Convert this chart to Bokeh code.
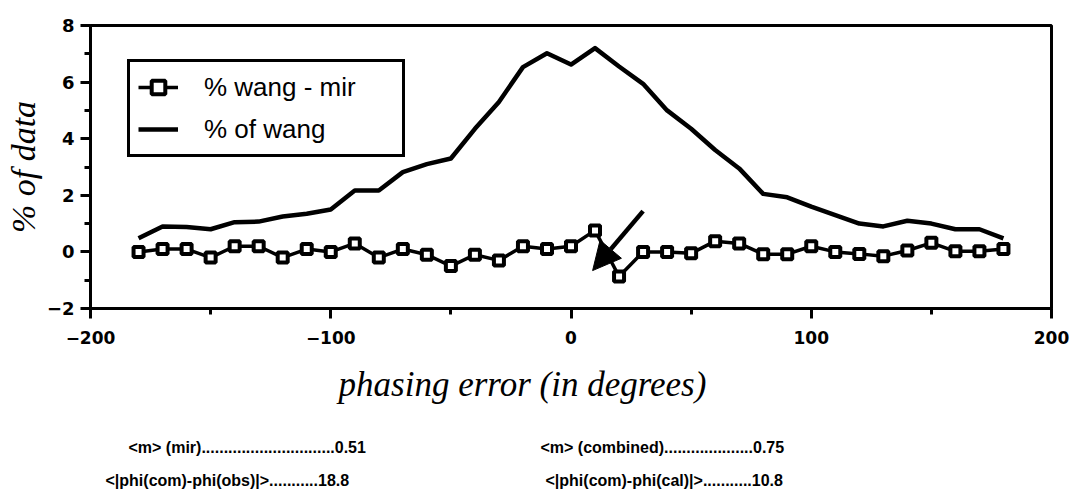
from bokeh.plotting import figure
from bokeh.layouts import column
from bokeh.models import (SingleIntervalTicker, Legend, LegendItem, Arrow, NormalHead, Range1d)
from bokeh.core.properties import value
from bokeh.embed import file_html
from bokeh.resources import INLINE

# ---- data ----
phase_err = [-180, -170, -160, -150, -140, -130, -120, -110, -100, -90, -80, -70, -60, -50,
             -40, -30, -20, -10, 0, 10, 20, 30, 40, 50, 60, 70, 80, 90, 100, 110, 120,
             130, 140, 150, 160, 170, 180]
pct_wang = [0.48, 0.9, 0.88, 0.8, 1.05, 1.07, 1.25, 1.35, 1.5, 2.17, 2.17, 2.82, 3.1, 3.3,
            4.35, 5.3, 6.53, 7.02, 6.62, 7.2, 6.55, 5.94, 5.0, 4.35, 3.6, 2.95, 2.05, 1.93,
            1.6, 1.3, 1.0, 0.9, 1.1, 1.0, 0.8, 0.8, 0.48]
pct_wang_mir = [0.0, 0.1, 0.1, -0.2, 0.2, 0.2, -0.2, 0.1, 0.0, 0.3, -0.2, 0.1, -0.1, -0.5,
                -0.1, -0.3, 0.2, 0.1, 0.2, 0.76, -0.87, 0.0, 0.0, -0.05, 0.38, 0.3, -0.08,
                -0.08, 0.2, 0.0, -0.07, -0.15, 0.05, 0.32, 0.02, 0.02, 0.1]
series_labels = ["% wang - mir", "% of wang"]
x_title = "phasing error (in degrees)"
y_title = "% of data"
arrow_from = (30, 1.44)
arrow_to = (9, -0.66)
stats_lines = [
    "<m> (mir)..............................0.51",
    "<m> (combined)....................0.75",
    "<|phi(com)-phi(obs)|>...........18.8",
    "<|phi(com)-phi(cal)|>...........10.8",
]

p = figure(frame_width=961, frame_height=283, output_backend="svg", toolbar_location=None,
           x_range=Range1d(-200, 200), y_range=Range1d(-2, 8),
           min_border_left=90, min_border_top=25, min_border_right=25, min_border_bottom=50)
p.width = 1076
p.height = 358
p.xgrid.visible = False
p.ygrid.visible = False
p.outline_line_color = "black"
p.outline_line_width = 3
p.outline_line_alpha = 1
p.background_fill_color = "white"
p.border_fill_color = "white"

p.xaxis.ticker = SingleIntervalTicker(interval=100, num_minor_ticks=2)
p.yaxis.ticker = SingleIntervalTicker(interval=2, num_minor_ticks=2)
for ax in (p.xaxis, p.yaxis):
    ax.axis_line_width = 3
    ax.axis_line_color = "black"
    ax.major_tick_line_width = 3
    ax.minor_tick_line_width = 3
    ax.major_tick_in = 0
    ax.minor_tick_in = 0
    ax.major_tick_out = 10
    ax.minor_tick_out = 6
    ax.major_label_text_font = "DejaVu Sans"
    ax.major_label_text_font_style = "bold"
    ax.major_label_text_color = "black"
    ax.axis_label_text_font = "Liberation Serif"
    ax.axis_label_text_font_style = "italic"
    ax.axis_label_text_color = "black"

p.yaxis.axis_label_text_font_size = "34px"
p.xaxis.major_label_text_font_size = "17px"
p.yaxis.major_label_text_font_size = "18px"
p.xaxis.major_label_standoff = 12
p.yaxis.major_label_standoff = 6
p.yaxis.axis_label = y_title
p.yaxis.axis_label_standoff = 2

r_wang = p.line(phase_err, pct_wang, line_color="black", line_width=4.5, line_join="round")
r_mir_line = p.line(phase_err, pct_wang_mir, line_color="black", line_width=3.5)
r_mir_pts = p.scatter(phase_err, pct_wang_mir, marker="square", size=10, fill_color="white",
                      line_color="black", line_width=4)

legend = Legend(items=[LegendItem(label=series_labels[0], renderers=[r_mir_line, r_mir_pts]),
                       LegendItem(label=series_labels[1], renderers=[r_wang])],
                location=(37, 151), border_line_color="black", border_line_width=3,
                border_line_alpha=1,
                label_text_font="Liberation Sans", label_text_font_size="26px",
                label_text_color="black", label_width=190,
                glyph_width=40, glyph_height=34, label_height=34, label_standoff=26,
                spacing=8, padding=8, margin=0, background_fill_alpha=1)
p.add_layout(legend)

p.add_layout(Arrow(end=NormalHead(size=28, fill_color="black", line_color="black"),
                   x_start=arrow_from[0], y_start=arrow_from[1],
                   x_end=arrow_to[0], y_end=arrow_to[1],
                   line_width=4.5, line_color="black"))

# ---- x title and statistics block below the chart ----
# p2's frame is aligned with p's frame (90..1051 px), so x here is page pixels
p2 = figure(width=1076, height=140, output_backend="svg", toolbar_location=None,
            x_range=Range1d(90, 1051), y_range=Range1d(140, 0),
            min_border=0, x_axis_type=None, y_axis_type=None)
p2.xgrid.visible = False
p2.ygrid.visible = False
p2.outline_line_color = None
p2.background_fill_color = "white"
p2.border_fill_color = "white"
p2.text(x=[522], y=[26], text=[x_title], text_font=value("Liberation Serif"),
        text_font_style="italic", text_font_size="35px", text_baseline="middle",
        text_align="center", text_color="black")
stat_x = [128, 540, 105, 545]
stat_y = [89, 89, 122, 122]
p2.text(x=stat_x, y=stat_y, text=stats_lines, text_font=value("Liberation Sans"),
        text_font_style="bold", text_font_size="16px", text_baseline="middle",
        text_align="left", text_color="black")

open("out.html", "w").write(file_html(column(p, p2, spacing=0), INLINE))
